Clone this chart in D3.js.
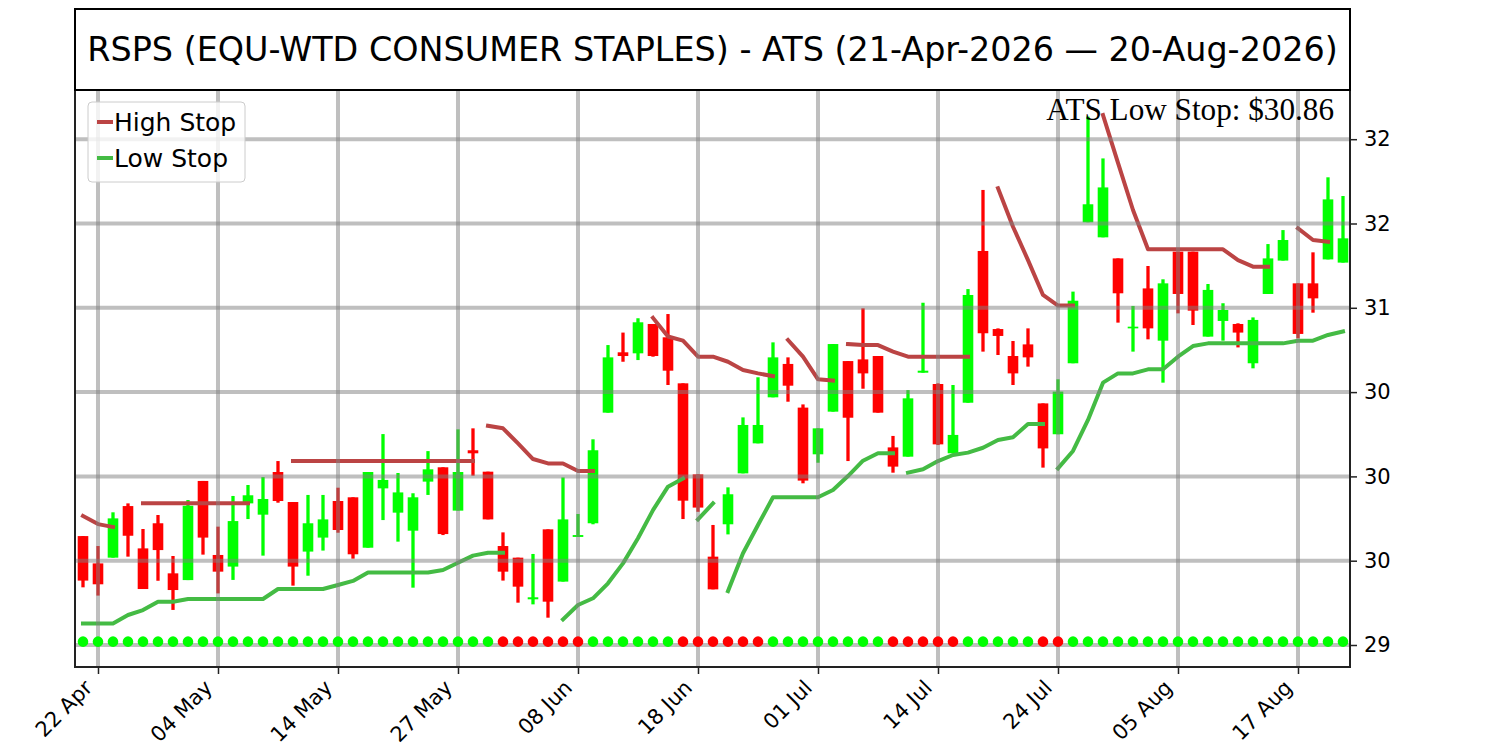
<!DOCTYPE html>
<html lang="en">
<head>
<meta charset="UTF-8">
<title>RSPS ATS</title>
<script src="https://d3js.org/d3.v7.min.js"></script>
<style>
  body, html { margin: 0; background: #fff; }
  text { font-family: 'DejaVu Sans', sans-serif; }
</style>
</head>
<body>
<svg id="chart" width="1500" height="750"></svg>
<script>
const dates = [
  "2026-04-21","2026-04-22","2026-04-23","2026-04-24","2026-04-27","2026-04-28","2026-04-29","2026-04-30",
  "2026-05-01","2026-05-04","2026-05-05","2026-05-06","2026-05-07","2026-05-08","2026-05-11","2026-05-12","2026-05-13","2026-05-14",
  "2026-05-15","2026-05-18","2026-05-19","2026-05-20","2026-05-21","2026-05-22","2026-05-26","2026-05-27","2026-05-28","2026-05-29",
  "2026-06-01","2026-06-02","2026-06-03","2026-06-04","2026-06-05","2026-06-08","2026-06-09","2026-06-10","2026-06-11","2026-06-12",
  "2026-06-15","2026-06-16","2026-06-17","2026-06-18","2026-06-22","2026-06-23","2026-06-24","2026-06-25","2026-06-26","2026-06-29","2026-06-30",
  "2026-07-01","2026-07-02","2026-07-06","2026-07-07","2026-07-08","2026-07-09","2026-07-10","2026-07-13","2026-07-14","2026-07-15",
  "2026-07-16","2026-07-17","2026-07-20","2026-07-21","2026-07-22","2026-07-23","2026-07-24","2026-07-27","2026-07-28","2026-07-29","2026-07-30","2026-07-31",
  "2026-08-03","2026-08-04","2026-08-05","2026-08-06","2026-08-07","2026-08-10","2026-08-11","2026-08-12","2026-08-13","2026-08-14",
  "2026-08-17","2026-08-18","2026-08-19","2026-08-20"
];

const opens = [29.646,29.484,29.518,29.824,29.573,29.722,29.425,29.385,29.973,29.534,
  29.465,29.840,29.773,30.026,29.848,29.554,29.637,29.854,29.876,29.577,
  29.929,29.785,29.678,29.969,30.054,29.797,30.155,30.028,29.587,29.518,
  29.271,29.686,29.376,29.641,29.722,30.378,30.736,30.730,30.904,30.825,
  30.552,30.012,29.524,29.716,30.018,30.196,30.469,30.667,30.408,30.131,
  30.384,30.684,30.694,30.714,30.172,30.117,30.615,30.548,30.137,30.437,
  31.337,30.874,30.714,30.783,30.433,30.250,30.671,31.507,31.418,31.293,
  30.878,31.115,30.805,31.333,31.333,30.829,30.922,30.904,30.671,31.082,
  31.280,31.145,31.145,31.287,31.268];
const highs = [29.646,29.587,29.787,29.840,29.688,29.771,29.528,29.860,29.973,29.702,
  29.884,29.949,29.996,30.091,29.848,29.890,29.890,29.933,29.876,30.026,
  30.251,30.020,29.900,30.150,30.054,30.279,30.285,30.028,29.668,29.518,
  29.540,29.686,29.994,29.777,30.220,30.779,30.853,30.938,30.904,30.963,
  30.552,30.012,29.712,29.935,30.350,30.588,30.795,30.706,30.427,30.285,
  30.785,30.684,30.997,30.714,30.240,30.512,31.030,30.552,30.542,31.111,
  31.699,30.878,30.803,30.878,30.433,30.576,31.096,32.134,31.886,31.293,
  31.011,31.248,31.169,31.333,31.333,31.141,31.027,30.908,30.943,31.378,
  31.461,31.145,31.329,31.774,31.663];
const lows = [29.342,29.293,29.518,29.524,29.332,29.381,29.208,29.385,29.536,29.306,
  29.386,29.747,29.530,29.844,29.352,29.411,29.560,29.666,29.512,29.577,
  29.741,29.613,29.340,29.890,29.652,29.797,30.004,29.745,29.382,29.251,
  29.241,29.162,29.376,29.641,29.716,30.378,30.680,30.690,30.710,30.542,
  29.747,29.790,29.330,29.656,30.018,30.196,30.469,30.443,29.959,30.081,
  30.384,30.091,30.520,30.378,30.022,30.117,30.615,30.186,30.137,30.437,
  30.740,30.720,30.542,30.651,30.052,30.250,30.671,31.507,31.418,30.912,
  30.740,30.813,30.556,30.967,30.898,30.829,30.805,30.765,30.641,31.082,
  31.280,30.819,30.971,31.287,31.268];
const closes = [29.382,29.360,29.751,29.648,29.332,29.563,29.326,29.826,29.637,29.435,
  29.735,29.888,29.866,29.854,29.465,29.722,29.745,29.682,29.538,30.026,
  29.979,29.905,29.876,30.042,29.658,30.026,30.137,29.745,29.435,29.346,
  29.283,29.257,29.745,29.652,30.155,30.706,30.714,30.914,30.714,30.627,
  29.856,29.815,29.330,29.894,30.305,30.305,30.706,30.538,29.975,30.285,
  30.785,30.348,30.611,30.378,30.058,30.463,30.627,30.190,30.246,31.076,
  30.849,30.833,30.611,30.706,30.166,30.503,31.042,31.614,31.714,31.086,
  30.888,30.878,31.145,31.082,30.983,31.106,30.987,30.853,30.928,31.293,
  31.402,30.845,31.056,31.643,31.412];

// ATS state per day: 1 = long (green dot), 0 = short (red dot)
const atsState = [1,1,1,1,1,1,1,1,1,1, 1,1,1,1,1,1,1,1,1,1, 1,1,1,1,1,1,1,1,0,0,
  0,0,0,0,1,1,1,1,1,1, 0,0,0,0,0,0,1,1,1,1, 1,1,1,1,0,0,0,0,0,1,
  1,1,1,1,0,0,1,1,1,1, 1,1,1,1,1,1,1,1,1,1, 1,1,1,1,1];

// stop lines come in separate runs: [first day index, values]
const highStopRuns = [
  [0,  [29.765,29.717,29.700]],
  [4,  [29.840,29.840,29.840,29.840,29.840,29.840,29.840,29.840]],
  [14, [30.091,30.091,30.091,30.091,30.091,30.091,30.091,30.091,30.091,30.091,30.091,30.091,30.091]],
  [27, [30.300,30.285,30.196,30.103,30.077,30.077,30.032,30.032]],
  [38, [30.940,30.830,30.805,30.710,30.710,30.680,30.631,30.611,30.595]],
  [47, [30.809,30.710,30.576,30.568]],
  [51, [30.785,30.779,30.779,30.740,30.710,30.710,30.710,30.710,30.710]],
  [61, [31.709,31.481,31.283,31.076,31.013,31.013]],
  [68, [32.143,31.860,31.580,31.347,31.347,31.347,31.347,31.347,31.347,31.283,31.244,31.244]],
  [81, [31.471,31.402,31.392]]
];
const lowStopRuns = [
  [0,  [29.128,29.128,29.128,29.178,29.207,29.257,29.257,29.273,29.273,29.273,
        29.273,29.273,29.273,29.332,29.332,29.332,29.332,29.356,29.380,29.430,
        29.430,29.430,29.430,29.430,29.445,29.488,29.530,29.547,29.547]],
  [32, [29.152,29.237,29.277,29.366,29.484,29.633,29.800,29.939,29.988]],
  [41, [29.745,29.840]],
  [43, [29.320,29.544,29.712,29.876,29.876,29.876,29.876,29.919,30.002,30.093,30.137,30.137]],
  [55, [30.022,30.042,30.091,30.127,30.141,30.170,30.216,30.232,30.311,30.311]],
  [65, [30.048,30.151,30.335,30.556,30.611,30.611,30.635,30.635,30.710,30.773,
        30.789,30.789,30.789,30.789,30.789,30.789,30.805,30.805,30.839,30.860]]
];

const tickDates = ["2026-04-22","2026-05-04","2026-05-14","2026-05-27","2026-06-08","2026-06-18",
  "2026-07-01","2026-07-14","2026-07-24","2026-08-05","2026-08-17"];
const yTicks = [29, 29.5, 30, 30.5, 31, 31.5, 32];
const yTickLabels = ["29", "30", "30", "30", "31", "32", "32"];
const dotLevel = 29.02;
const lastLowStop = 30.86;
const titleText = "RSPS (EQU-WTD CONSUMER STAPLES) - ATS (21-Apr-2026 \u2014 20-Aug-2026)";

const W = 1500, H = 750;
const pLeft = 75, pRight = 1350, pTop = 90, pBottom = 667;
const UP = "#00ff00", DOWN = "#ff0000";
const HIGH_COL = "#bb4444", LOW_COL = "#44bb44";
const tickFont = "21px";

const svg = d3.select("#chart");
svg.append("rect").attr("width", W).attr("height", H).attr("fill", "#fff");

const x = d3.scaleLinear().domain([-0.533, 84.467]).range([pLeft, pRight]);
const y = d3.scaleLinear().domain([28.8695, 32.2918]).range([pBottom, pTop]);

const days = dates.map((d, i) => ({
  i, o: opens[i], h: highs[i], l: lows[i], c: closes[i], up: closes[i] >= opens[i]
}));

const plot = svg.append("g");

// wicks + bodies
plot.selectAll("line.wick").data(days).join("line")
  .attr("class", "wick")
  .attr("x1", d => x(d.i)).attr("x2", d => x(d.i))
  .attr("y1", d => y(d.h)).attr("y2", d => y(d.l))
  .attr("stroke", d => d.up ? UP : DOWN)
  .attr("stroke-width", 3.3);

const bodyW = 10.6;
plot.selectAll("rect.body").data(days).join("rect")
  .attr("class", "body")
  .attr("x", d => x(d.i) - bodyW / 2)
  .attr("width", bodyW)
  .attr("y", d => y(Math.max(d.o, d.c)))
  .attr("height", d => Math.max(1.5, Math.abs(y(d.o) - y(d.c))))
  .attr("fill", d => d.up ? UP : DOWN);

// stop lines
const line = d3.line().x(d => x(d[0])).y(d => y(d[1]));
function runPoints(run) { return run[1].map((v, k) => [run[0] + k, v]); }

plot.selectAll("path.hs").data(highStopRuns).join("path")
  .attr("class", "hs")
  .attr("d", r => line(runPoints(r)))
  .attr("fill", "none").attr("stroke", HIGH_COL)
  .attr("stroke-width", 4).attr("stroke-linecap", "square").attr("stroke-linejoin", "round");

plot.selectAll("path.ls").data(lowStopRuns).join("path")
  .attr("class", "ls")
  .attr("d", r => line(runPoints(r)))
  .attr("fill", "none").attr("stroke", LOW_COL)
  .attr("stroke-width", 4).attr("stroke-linecap", "square").attr("stroke-linejoin", "round");

// grid (over the candles, semi transparent)
const tickIdx = tickDates.map(t => dates.indexOf(t));
const grid = svg.append("g").attr("stroke", "gray").attr("stroke-opacity", 0.5).attr("stroke-width", 4);
grid.selectAll("line.gy").data(yTicks).join("line")
  .attr("class", "gy")
  .attr("x1", pLeft).attr("x2", pRight)
  .attr("y1", d => y(d)).attr("y2", d => y(d));
grid.selectAll("line.gx").data(tickIdx).join("line")
  .attr("class", "gx")
  .attr("x1", d => x(d)).attr("x2", d => x(d))
  .attr("y1", pTop).attr("y2", pBottom);

// ATS state dots
svg.append("g").selectAll("circle").data(days).join("circle")
  .attr("cx", d => x(d.i))
  .attr("cy", y(dotLevel))
  .attr("r", 5.3)
  .attr("fill", d => atsState[d.i] ? UP : DOWN);

// frame
svg.append("rect")
  .attr("x", pLeft).attr("y", pTop)
  .attr("width", pRight - pLeft).attr("height", pBottom - pTop)
  .attr("fill", "none").attr("stroke", "#222").attr("stroke-width", 2);

// x axis
const fmt = d3.utcFormat("%d %b");
const xAxis = svg.append("g")
  .attr("transform", `translate(0,${pBottom})`)
  .call(d3.axisBottom(x).tickValues(tickIdx).tickSize(7)
    .tickFormat(i => fmt(new Date(dates[i] + "T00:00:00Z"))));
xAxis.select(".domain").remove();
xAxis.selectAll(".tick line").attr("stroke", "#222").attr("stroke-width", 1.5);
xAxis.selectAll(".tick text")
  .attr("y", 0).attr("dy", 0).attr("x", 0)
  .attr("transform", "translate(-5,22) rotate(-45)")
  .attr("text-anchor", "end")
  .attr("fill", "#000")
  .style("font-size", tickFont)
  .style("font-family", "'DejaVu Sans', sans-serif");

// y axis on the right
const yAxis = svg.append("g")
  .attr("transform", `translate(${pRight},0)`)
  .call(d3.axisRight(y).tickValues(yTicks).tickSize(7).tickPadding(7)
    .tickFormat((d, k) => yTickLabels[k]));
yAxis.select(".domain").remove();
yAxis.selectAll(".tick line").attr("stroke", "#222").attr("stroke-width", 1.5);
yAxis.selectAll(".tick text")
  .attr("fill", "#000")
  .style("font-size", tickFont)
  .style("font-family", "'DejaVu Sans', sans-serif");

// legend
const lg = svg.append("g");
lg.append("rect")
  .attr("x", 88).attr("y", 102).attr("width", 157).attr("height", 80).attr("rx", 4)
  .attr("fill", "#fff").attr("fill-opacity", 0.8)
  .attr("stroke", "#cccccc").attr("stroke-width", 1);
const legendItems = [["High Stop", HIGH_COL], ["Low Stop", LOW_COL]];
legendItems.forEach(([label, col], k) => {
  const cy = 122 + k * 36;
  lg.append("line").attr("x1", 97).attr("x2", 113).attr("y1", cy).attr("y2", cy)
    .attr("stroke", col).attr("stroke-width", 4);
  lg.append("text").attr("x", 114).attr("y", cy + 9)
    .style("font-size", "25px").text(label);
});

// last low stop label
svg.append("text")
  .attr("x", 1334).attr("y", 120)
  .attr("text-anchor", "end")
  .style("font-family", "'Liberation Serif', 'Times New Roman', serif")
  .style("font-size", "31.2px")
  .text(`ATS Low Stop: $${lastLowStop.toFixed(2)}`);

// title box
svg.append("rect")
  .attr("x", pLeft).attr("y", 9).attr("width", pRight - pLeft).attr("height", pTop - 9)
  .attr("fill", "#fff").attr("stroke", "#000").attr("stroke-width", 2);
svg.append("text")
  .attr("x", (pLeft + pRight) / 2).attr("y", 61)
  .attr("text-anchor", "middle")
  .style("font-size", "33.4px")
  .text(titleText);
</script>
</body>
</html>
